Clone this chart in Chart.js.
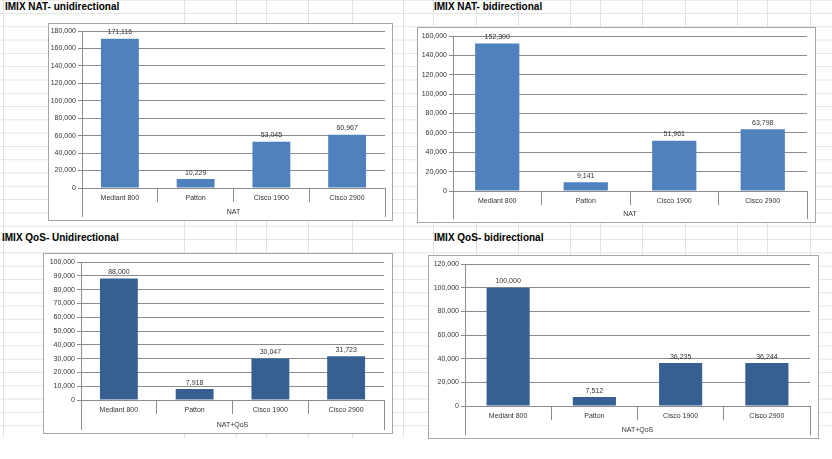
<!DOCTYPE html>
<html>
<head>
<meta charset="utf-8">
<script src="https://cdn.jsdelivr.net/npm/chart.js@4"></script>
<style>
  html, body { margin: 0; padding: 0; background: #fff; }
  body { width: 832px; height: 459px; position: relative; overflow: hidden; font-family: "Liberation Sans", Arial, sans-serif; }
  #sheet {
    position: absolute; left: 0; top: 0; width: 832px; height: 438px;
    background-image: linear-gradient(#e3e3e3 1px, transparent 1px);
    background-size: 100% 13.3px;
    background-position: 0 13px;
  }
  .col { position: absolute; top: 0; width: 1px; height: 438px; background: #e3e3e3; }
  .title { position: absolute; font-weight: bold; font-size: 10px; line-height: 12px; color: #000; white-space: nowrap; }
  .box { position: absolute; background: #fff; border: 1px solid #a6a6a6; box-sizing: border-box; }
  .box canvas { position: absolute; left: 0; top: 0; }
</style>
</head>
<body>
<div id="sheet"></div>

<div class="title" style="left:5px;top:1px">IMIX NAT- unidirectional</div>
<div class="title" style="left:434px;top:1px">IMIX NAT- bidirectional</div>
<div class="title" style="left:2px;top:232px">IMIX QoS- Unidirectional</div>
<div class="title" style="left:434px;top:232px">IMIX QoS- bidirectional</div>

<div class="box" id="box1" style="left:48px;top:23px;width:345px;height:198px"><canvas id="c1"></canvas></div>
<div class="box" id="box2" style="left:417px;top:27px;width:399px;height:196px"><canvas id="c2"></canvas></div>
<div class="box" id="box3" style="left:43px;top:253px;width:350px;height:181px"><canvas id="c3"></canvas></div>
<div class="box" id="box4" style="left:428px;top:255px;width:391px;height:184px"><canvas id="c4"></canvas></div>

<script>
// categories and values
const devices = ["Mediant 800", "Patton", "Cisco 1900", "Cisco 2900"];

const natUni = [171116, 10229, 53045, 60967];
const natBi = [152300, 9141, 51961, 63798];
const qosUni = [88000, 7918, 30047, 31723];
const qosBi = [100000, 7512, 36235, 36244];

const natUniTicks = [0, 20000, 40000, 60000, 80000, 100000, 120000, 140000, 160000, 180000];
const natBiTicks = [0, 20000, 40000, 60000, 80000, 100000, 120000, 140000, 160000];
const qosUniTicks = [0, 10000, 20000, 30000, 40000, 50000, 60000, 70000, 80000, 90000, 100000];
const qosBiTicks = [0, 20000, 40000, 60000, 80000, 100000, 120000];

const groupNat = "NAT";
const groupQos = "NAT+QoS";

// spreadsheet column lines
const sheetCols = [3, 184, 236, 266, 308, 352, 403, 433, 476, 518, 570, 600, 642, 685, 737, 767, 810];
const sheet = document.getElementById("sheet");
sheetCols.forEach(x => {
    const d = document.createElement("div");
    d.className = "col";
    d.style.left = x + "px";
    sheet.appendChild(d);
});

const FONT = '"Liberation Sans", Arial, sans-serif';
const lineColor = '#8c8c8c';
const textColor = '#333';

// value labels above the bars
const barLabels = {
    id: 'barLabels',
    afterDatasetsDraw(chart) {
        const ctx = chart.ctx;
        const meta = chart.getDatasetMeta(0);
        const values = chart.data.datasets[0].data;
        ctx.save();
        ctx.font = `7px ${FONT}`;
        ctx.fillStyle = textColor;
        ctx.textAlign = 'center';
        ctx.textBaseline = 'bottom';
        meta.data.forEach((bar, i) => {
            ctx.fillText(values[i].toLocaleString('en-US'), bar.x, bar.y - 3);
        });
        ctx.restore();
    }
};

// long outer dividers of the grouped category axis
const groupLines = {
    id: 'groupLines',
    afterDraw(chart) {
        const x = chart.scales.x;
        const ctx = chart.ctx;
        ctx.save();
        ctx.strokeStyle = lineColor;
        ctx.lineWidth = 1;
        ctx.beginPath();
        [x.left, x.right].forEach(px => {
            const p = Math.round(px) + 0.5;
            ctx.moveTo(p, x.top);
            ctx.lineTo(p, x.bottom - 3);
        });
        ctx.stroke();
        ctx.restore();
    }
};

function makeChart(id, boxId, values, ticks, group, color, inset) {
    const box = document.getElementById(boxId);
    const canvas = document.getElementById(id);
    canvas.width = box.clientWidth;
    canvas.height = box.clientHeight;
    canvas.style.width = box.clientWidth + 'px';
    canvas.style.height = box.clientHeight + 'px';

    return new Chart(canvas.getContext('2d'), {
        type: 'bar',
        data: {
            labels: devices,
            datasets: [{
                data: values,
                backgroundColor: color,
                borderWidth: 0,
                barPercentage: 1,
                categoryPercentage: 0.5
            }]
        },
        options: {
            responsive: false,
            animation: false,
            layout: { padding: { left: 0, top: inset.top, right: inset.right, bottom: 0 } },
            plugins: { legend: { display: false }, tooltip: { enabled: false } },
            scales: {
                x: {
                    grid: { offset: true, drawOnChartArea: false, drawTicks: true, tickLength: 14, color: lineColor },
                    border: { color: lineColor },
                    ticks: { color: textColor, font: { family: FONT, size: 7 }, padding: -8, maxRotation: 0 },
                    title: { display: true, text: group, color: textColor, font: { family: FONT, size: 7 }, padding: { top: 0, bottom: 4 } },
                    afterFit: s => { s.height = inset.bottom; }
                },
                y: {
                    min: ticks[0],
                    max: ticks[ticks.length - 1],
                    ticks: {
                        stepSize: ticks[1] - ticks[0],
                        color: textColor,
                        font: { family: FONT, size: 7 },
                        padding: 2,
                        callback: v => v.toLocaleString('en-US')
                    },
                    grid: { color: lineColor, tickLength: 4 },
                    border: { color: lineColor },
                    afterFit: s => { s.width = inset.left; }
                }
            }
        },
        plugins: [barLabels, groupLines]
    });
}

makeChart('c1', 'box1', natUni, natUniTicks, groupNat, '#4f81bd', { left: 33, top: 7, right: 7, bottom: 32 });
makeChart('c2', 'box2', natBi, natBiTicks, groupNat, '#4f81bd', { left: 35, top: 8, right: 8, bottom: 31 });
makeChart('c3', 'box3', qosUni, qosUniTicks, groupQos, '#376092', { left: 37, top: 8, right: 8, bottom: 33 });
makeChart('c4', 'box4', qosBi, qosBiTicks, groupQos, '#376092', { left: 36, top: 8, right: 8, bottom: 32 });
</script>
</body>
</html>
